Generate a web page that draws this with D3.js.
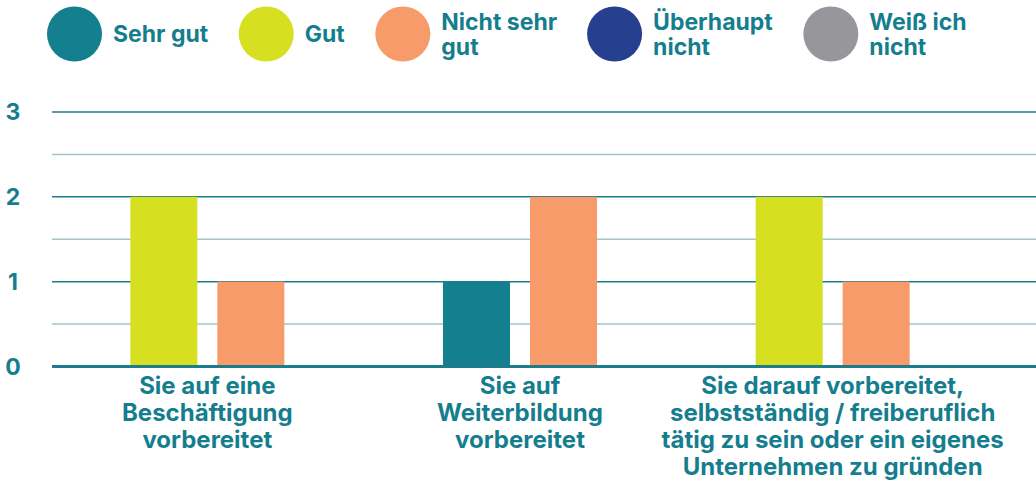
<!DOCTYPE html>
<html>
<head>
<meta charset="utf-8">
<script src="https://cdn.jsdelivr.net/npm/d3@7"></script>
<style>
    body { margin: 0; background: #fff; }
    svg { display: block; font-family: Inter, sans-serif; font-weight: 700; }
</style>
</head>
<body>
<svg width="1036" height="483"></svg>
<script>
// **** Data ****
var categories = [
    ["Sie auf eine", "Beschäftigung", "vorbereitet"],
    ["Sie auf", "Weiterbildung", "vorbereitet"],
    ["Sie darauf vorbereitet,", "selbstständig / freiberuflich", "tätig zu sein oder ein eigenes", "Unternehmen zu gründen"]
];
var seriesNames = ["Sehr gut", "Gut", "Nicht sehr gut", "Überhaupt nicht", "Weiß ich nicht"];
var sehrGut = [0, 1, 0];
var gut = [2, 0, 2];
var nichtSehrGut = [1, 2, 1];
var ueberhauptNicht = [0, 0, 0];
var weissNicht = [0, 0, 0];
var yTicks = [0, 1, 2, 3];

var seriesValues = [sehrGut, gut, nichtSehrGut, ueberhauptNicht, weissNicht];
var colors = ["#137f8f", "#d7df21", "#f89b6b", "#263f8f", "#97979b"];
var textColor = "#157e8e";

var svg = d3.select('svg');

// **** Scales ****
var catKeys = categories.map(function (c) { return c.join(" "); });

var xScale = d3.scaleBand()
    .domain(catKeys).range([51, 989]);

var yScale = d3.scaleLinear()
    .domain([0, 3]).range([366.5, 112]);

// **** Grid ****
var grid = svg.append('g').attr('class', 'grid');

grid.selectAll('line')
    .data(d3.range(0, 3.01, 0.5))
    .enter().append('line')
    .attr('x1', 52).attr('x2', 1036)
    .attr('y1', function (d) { return yScale(d); })
    .attr('y2', function (d) { return yScale(d); })
    .attr('stroke', function (d) { return d % 1 === 0 ? "#1b7d8c" : "#a3c5cc"; })
    .attr('stroke-width', function (d) { return d === 0 ? 3 : 1.5; });

svg.append('g').attr('class', 'y labels')
    .selectAll('text')
    .data(yTicks)
    .enter().append('text')
    .attr('x', 13)
    .attr('y', function (d) { return yScale(d); })
    .attr('dy', '0.36em')
    .attr('text-anchor', 'middle')
    .attr('font-size', 23)
    .attr('fill', textColor)
    .text(function (d) { return d; });

// **** Bars (only non-zero values, centered in category) ****
catKeys.forEach(function (key, i) {
    var present = seriesNames.filter(function (s, j) { return seriesValues[j][i] > 0; });
    var center = xScale(key) + xScale.bandwidth() / 2;
    var half = present.length * 87 / 2 - 10;
    var inner = d3.scaleBand()
        .domain(present)
        .range([center - half, center + half])
        .paddingInner(20 / 87);

    svg.append('g').attr('class', 'bars')
        .selectAll('rect')
        .data(present)
        .enter().append('rect')
        .attr('x', function (s) { return inner(s); })
        .attr('width', inner.bandwidth())
        .attr('y', function (s) { return yScale(seriesValues[seriesNames.indexOf(s)][i]); })
        .attr('height', function (s) { return yScale(0) - 1.5 - yScale(seriesValues[seriesNames.indexOf(s)][i]); })
        .attr('fill', function (s) { return colors[seriesNames.indexOf(s)]; });

    svg.append('text')
        .attr('class', 'x label')
        .attr('text-anchor', 'middle')
        .attr('font-size', 24)
        .attr('fill', textColor)
        .selectAll('tspan')
        .data(categories[i])
        .enter().append('tspan')
        .attr('x', center)
        .attr('y', function (d, k) { return 394 + k * 27; })
        .text(function (d) { return d; });
});

// **** Legend ****
var legend = svg.append('g').attr('class', 'legend');
var lx = 47;
seriesNames.forEach(function (name, j) {
    legend.append('circle')
        .attr('cx', lx + 27.5).attr('cy', 34).attr('r', 27.5)
        .attr('fill', colors[j]);

    // wrap words to a max width
    var label = legend.append('text')
        .attr('font-size', 23)
        .attr('fill', textColor);
    var words = name.split(" ");
    var lines = [];
    var line = [];
    var probe = label.append('tspan');
    words.forEach(function (w) {
        line.push(w);
        probe.text(line.join(" "));
        if (probe.node().getComputedTextLength() > 135 && line.length > 1) {
            line.pop();
            lines.push(line.join(" "));
            line = [w];
        }
    });
    lines.push(line.join(" "));
    probe.remove();

    var tx = lx + 55 + 11;
    var firstY = 34 - (lines.length - 1) * 25.5 / 2;
    label.selectAll('tspan')
        .data(lines)
        .enter().append('tspan')
        .attr('x', tx)
        .attr('y', function (d, k) { return firstY + k * 25.5; })
        .attr('dy', '0.36em')
        .text(function (d) { return d; });

    lx = tx + label.node().getBBox().width + 30;
});
</script>
</body>
</html>
